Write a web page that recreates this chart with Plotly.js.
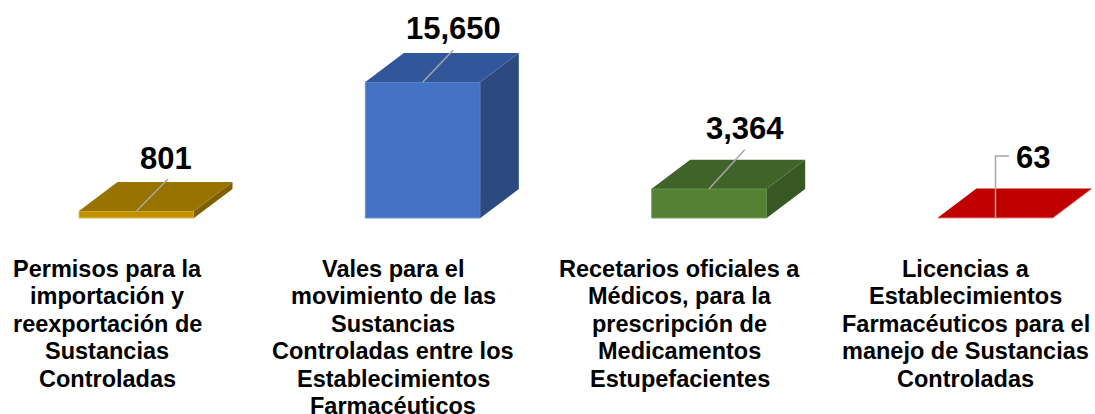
<!DOCTYPE html>
<html>
<head>
<meta charset="utf-8">
<script src="https://cdn.plot.ly/plotly-3.0.1.min.js"></script>
<style>html,body{margin:0;padding:0;background:#fff;}#chart{width:1095px;height:414px;}</style>
</head>
<body>
<div id="chart"></div>
<script>
// ---- data ----
const categories = [
  "Permisos para la importación y reexportación de Sustancias Controladas",
  "Vales para el movimiento de las Sustancias Controladas entre los Establecimientos Farmacéuticos",
  "Recetarios oficiales a Médicos, para la prescripción de Medicamentos Estupefacientes",
  "Licencias a Establecimientos Farmacéuticos para el manejo de Sustancias Controladas"
];
const categoryLines = [
  ["Permisos para la", "importación y", "reexportación de", "Sustancias", "Controladas"],
  ["Vales para el", "movimiento de las", "Sustancias", "Controladas entre los", "Establecimientos", "Farmacéuticos"],
  ["Recetarios oficiales a", "Médicos, para la", "prescripción de", "Medicamentos", "Estupefacientes"],
  ["Licencias a", "Establecimientos", "Farmacéuticos para el", "manejo de Sustancias", "Controladas"]
];
const values = [801, 15650, 3364, 63];

// ---- styles ----
const frontColors = ["#BF9000", "#4472C4", "#548235", "#C00000"];
const topColors   = ["#987300", "#31569A", "#406329", "#C00000"];
const sideColors  = ["#7F6000", "#2C4A80", "#375723", "#C00000"];
const edgeColors  = ["#E2BC4A", "#6F92D4", "#7DA35F", "#F08A8A"];

const W = 1095, H = 414;
const slotPx = 286.33, firstCenterPx = 136.5, basePx = 218, barMaxPx = 136;
const frontWidthPx = 115, depthXPx = 38.5, depthYPx = 29;
const upp = Math.max(...values) / barMaxPx;      // value units per pixel
const xpp = 1 / slotPx;                          // x units per pixel
const barW = frontWidthPx * xpp, dX = depthXPx * xpp, dY = depthYPx * upp;

// label placement (pixel offsets from front-top centre)
const labelOffsetPx = [[29.5, -53], [30.5, -54], [35.5, -60], [37.5, -59.5]];
const leaderPx = [
  [[0, 0], [31.5, -32]],
  [[0, 0], [30.5, -32]],
  [[0, 0], [35.5, -39]],
  [[0, 0], [0, -61.5], [13.5, -61.5]]
];

const FONT = "Liberation Sans, Arial, Helvetica, sans-serif";
const idx = values.map((_, i) => i);

const traces = [];
// front faces
traces.push({
  type: "bar", x: idx, y: values, width: barW,
  marker: {color: frontColors, line: {color: edgeColors, width: 1}},
  hoverinfo: "skip", showlegend: false
});
// top and side faces
values.forEach((v, i) => {
  const xl = i - barW / 2, xr = i + barW / 2;
  traces.push({
    type: "scatter", mode: "lines", fill: "toself",
    x: [xr, xr, xr + dX, xr + dX, xr], y: [0, v, v + dY, dY, 0],
    fillcolor: sideColors[i], line: {width: 0}, hoverinfo: "skip", showlegend: false
  });
  traces.push({
    type: "scatter", mode: "lines", fill: "toself",
    x: [xl, xr, xr + dX, xl + dX, xl], y: [v, v, v + dY, v + dY, v],
    fillcolor: topColors[i], line: {width: 0}, hoverinfo: "skip", showlegend: false
  });
});
// leader lines
values.forEach((v, i) => {
  traces.push({
    type: "scatter", mode: "lines",
    x: leaderPx[i].map(p => i + p[0] * xpp),
    y: leaderPx[i].map(p => v - p[1] * upp),
    line: {color: "#A6A6A6", width: 1.5}, hoverinfo: "skip", showlegend: false
  });
});

const annotations = [];
values.forEach((v, i) => {
  annotations.push({
    x: i + labelOffsetPx[i][0] * xpp, y: v - labelOffsetPx[i][1] * upp,
    xref: "x", yref: "y", xanchor: "center", yanchor: "middle",
    text: "<b>" + v.toLocaleString("en-US") + "</b>", showarrow: false,
    font: {family: FONT, size: 31, color: "#000"}
  });
});
const textShiftPx = -29.5, firstLinePx = 268.5, linePx = 27.5;
categoryLines.forEach((lines, i) => {
  lines.forEach((ln, k) => {
    annotations.push({
      x: i + textShiftPx * xpp, xref: "x",
      y: 1 - (firstLinePx + k * linePx) / H, yref: "paper",
      xanchor: "center", yanchor: "middle",
      text: "<b>" + ln + "</b>", showarrow: false,
      font: {family: FONT, size: 23.5, color: "#000"}
    });
  });
});

const layout = {
  width: W, height: H,
  margin: {l: 0, r: 0, t: 0, b: 0, pad: 0},
  paper_bgcolor: "#ffffff", plot_bgcolor: "#ffffff",
  showlegend: false,
  xaxis: {range: [-firstCenterPx * xpp, (W - firstCenterPx) * xpp], visible: false, fixedrange: true},
  yaxis: {range: [-(H - basePx) * upp, basePx * upp], visible: false, fixedrange: true},
  annotations: annotations,
  font: {family: FONT}
};
Plotly.newPlot("chart", traces, layout, {displayModeBar: false, staticPlot: true});
</script>
</body>
</html>
